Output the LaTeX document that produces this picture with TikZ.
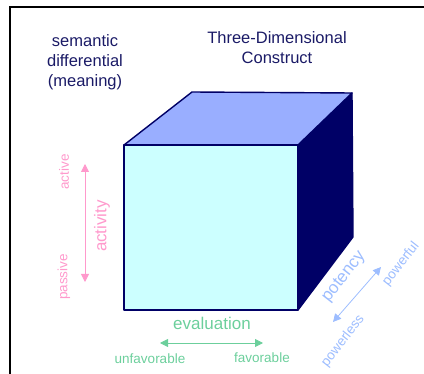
\documentclass[tikz,border=0pt]{standalone}
\usepackage{fontspec}
\setmainfont{Liberation Sans}
\usetikzlibrary{arrows.meta}
\definecolor{navy}{HTML}{000066}
\definecolor{frontface}{HTML}{CCFFFF}
\definecolor{topface}{HTML}{99AEFF}
\definecolor{titletext}{HTML}{1A1A66}
\definecolor{actpink}{HTML}{FF99CC}
\definecolor{evalgreen}{HTML}{6CCF9C}
\definecolor{potblue}{HTML}{9DBDFF}
\tikzset{
  title/.style={font=\fontsize{16.5}{20}\selectfont, text=titletext,
                align=center, inner sep=0pt},
  dim/.style={font=\fontsize{17}{20}\selectfont, inner sep=0pt},
  pole/.style={font=\fontsize{13.5}{16}\selectfont, inner sep=0pt},
  face/.style={draw=navy, line width=1.4pt, line join=round},
  arc/.style={{Triangle[length=8pt,width=8pt]}-{Triangle[length=8pt,width=8pt]},
              line width=0.8pt}
}

\begin{document}
\begin{tikzpicture}[x=1pt, y=-1pt]
  \useasboundingbox (0,0) rectangle (424,374);
  % frame
  \draw[line width=1.6pt] (10,374) -- (10,7) -- (424,7);

  % cube corners
  \coordinate (ftl) at (124,145);
  \coordinate (ftr) at (298,145);
  \coordinate (fbr) at (298,310);
  \coordinate (fbl) at (124,310);
  \coordinate (btl) at (192,92);
  \coordinate (btr) at (352,93);
  \coordinate (bbr) at (353,237);
  \filldraw[face, fill=navy] (ftr) -- (btr) -- (bbr) -- (fbr) -- cycle;
  \filldraw[face, fill=topface] (ftl) -- (btl) -- (btr) -- (ftr) -- cycle;
  \filldraw[face, fill=frontface] (ftl) rectangle (fbr);

  % titles
  \node[title] (sd) at (85,62) {semantic\\differential\\(meaning)};
  \node[title] (tdc) at (277,48) {Three-Dimensional\\Construct};

  % activity
  \node[dim, text=actpink, rotate=90] (act) at (102,226) {activity};
  \node[pole, text=actpink, rotate=90] (active) at (64,172) {active};
  \node[pole, text=actpink, rotate=90] (passive) at (64,277) {passive};
  \coordinate (actA) at (85,164);
  \coordinate (actB) at (85,282);
  \draw[arc, actpink] (actA) -- (actB);

  % evaluation
  \node[dim, text=evalgreen] (eval) at (212,323) {evaluation};
  \node[pole, text=evalgreen] (unfav) at (150,359) {unfavorable};
  \node[pole, text=evalgreen] (fav) at (262,358) {favorable};
  \coordinate (evA) at (160,343);
  \coordinate (evB) at (263,343);
  \draw[arc, evalgreen] (evA) -- (evB);

  % potency
  \node[dim, text=potblue, rotate=52] (pot) at (344,277) {potency};
  \node[pole, text=potblue, rotate=52] (powerful) at (401,264) {powerful};
  \node[pole, text=potblue, rotate=52] (powerless) at (343,341) {powerless};
  \coordinate (potA) at (333,322);
  \coordinate (potB) at (381,267);
  \draw[arc, potblue] (potA) -- (potB);
\end{tikzpicture}
\end{document}
